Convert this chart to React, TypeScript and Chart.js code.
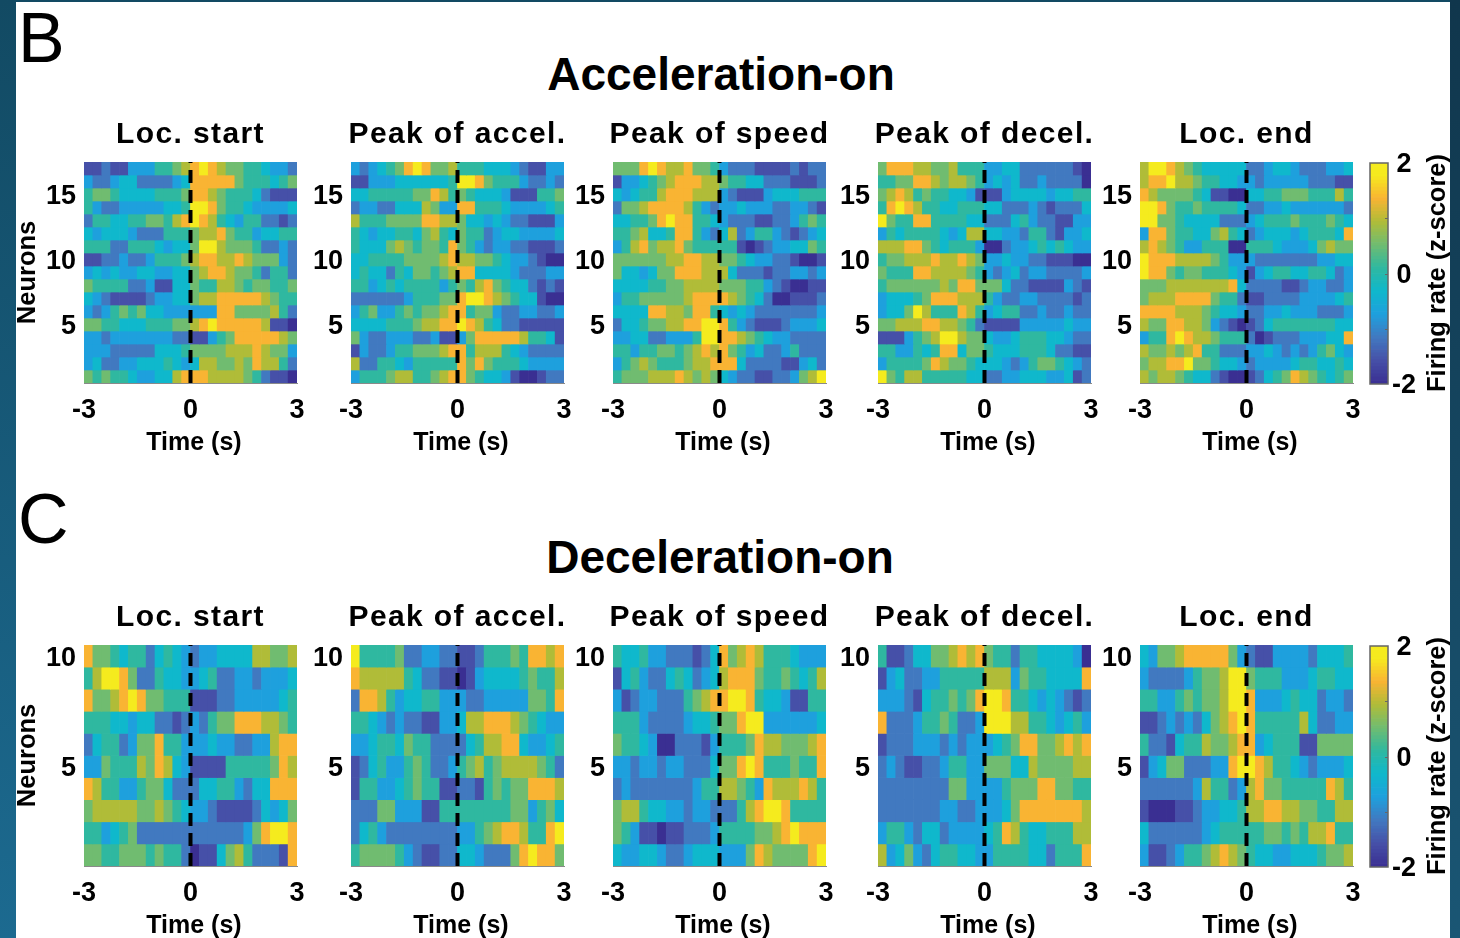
import React, { useEffect, useRef } from "react";
import { Chart, registerables } from "chart.js";

Chart.register(...registerables);

// Heat levels 0..9; level 0 = -2 z, level 9 = +2 z. Rows run from top neuron to bottom neuron.
const accStart = [
[1,1,2,1,1,3,3,3,5,5,6,7,8,9,8,7,6,6,5,5,4,3,3,2],
[3,2,2,3,4,4,2,2,2,2,3,4,8,8,8,8,8,6,5,5,5,4,5,6],
[5,6,6,5,4,4,4,4,5,5,5,6,8,8,7,6,5,5,5,4,2,1,1,1],
[5,3,2,2,3,3,3,3,3,4,4,5,9,9,8,6,5,5,4,3,3,3,3,4],
[2,5,5,4,4,5,5,6,6,5,7,8,9,8,7,5,4,3,5,5,2,2,1,2],
[4,3,4,4,4,3,2,2,2,5,5,5,6,7,7,8,6,5,5,3,4,4,5,5],
[5,5,5,2,2,5,5,5,4,3,4,4,6,9,9,7,6,6,6,5,2,2,3,2],
[1,1,2,2,3,2,2,3,5,5,5,6,7,8,8,7,7,8,7,6,6,6,3,2],
[3,4,3,4,3,3,4,4,3,3,4,4,6,7,8,8,7,6,6,5,2,5,5,2],
[6,5,5,5,5,2,2,3,1,1,4,4,6,5,5,7,7,6,5,6,6,5,5,6],
[4,3,2,1,1,1,1,2,3,3,4,4,6,7,7,8,8,8,8,8,7,6,5,5],
[3,2,3,5,6,5,6,4,4,3,3,3,3,3,3,8,8,6,6,6,6,7,5,2],
[6,6,5,5,4,4,4,5,5,5,6,6,7,8,9,8,8,8,8,8,7,1,1,0],
[3,3,2,3,3,3,3,3,3,3,2,2,1,1,3,5,6,8,8,8,8,8,7,6],
[3,3,3,2,2,2,2,2,4,4,4,5,6,6,6,6,7,7,7,8,7,6,6,3],
[3,4,2,2,3,3,4,4,4,5,4,3,4,7,7,6,6,7,6,8,7,7,5,2],
[6,5,6,5,5,4,3,3,4,4,7,8,8,8,7,7,7,7,6,5,2,1,1,0],
];
const accAccel = [
[3,2,3,4,5,6,8,9,8,6,6,7,5,5,5,4,4,4,3,2,1,1,3,3],
[1,1,3,3,3,4,4,4,4,4,4,5,9,9,8,6,5,5,5,3,2,2,3,2],
[4,4,5,5,5,5,5,6,6,8,7,5,6,5,4,4,4,3,1,1,1,5,5,6],
[2,3,3,2,2,4,4,4,7,6,3,3,8,8,5,5,5,4,3,3,3,3,4,5],
[7,5,5,5,6,6,6,6,8,8,7,7,6,4,4,3,4,3,2,2,1,1,1,3],
[5,4,3,4,4,5,5,4,6,7,5,4,6,5,5,2,3,4,4,3,3,3,3,4],
[5,4,4,4,6,7,6,5,6,6,5,8,6,5,3,2,3,3,2,2,1,1,1,2],
[4,4,5,5,5,5,6,6,6,6,7,8,7,7,6,6,5,4,3,3,2,1,0,0],
[4,5,4,4,2,5,4,6,6,5,6,7,8,8,4,4,4,4,3,2,2,2,3,3],
[5,5,3,4,5,4,5,5,5,5,3,5,6,5,7,8,6,5,4,4,2,1,2,1],
[2,2,2,2,2,2,3,5,5,5,6,6,8,9,9,8,7,6,5,4,4,1,0,0],
[3,5,6,3,3,5,6,5,6,6,7,8,8,5,6,6,3,2,2,3,3,2,2,3],
[4,4,4,4,5,5,5,6,7,7,8,8,9,8,7,5,4,2,2,1,1,1,1,1],
[6,3,2,2,3,3,3,2,2,3,1,1,3,6,8,8,8,8,8,7,5,5,4,1],
[1,3,2,2,3,5,5,6,6,6,7,8,8,5,7,7,7,5,4,3,2,2,2,2],
[7,2,2,5,5,4,3,5,5,5,5,5,8,6,8,6,5,5,5,4,3,3,3,3],
[3,5,5,5,6,7,7,5,5,6,7,8,8,6,5,4,4,3,1,0,0,1,2,2],
];
const accSpeed = [
[6,6,6,8,9,8,7,7,8,6,6,5,3,2,2,2,1,1,1,1,2,1,2,2],
[1,3,3,4,5,6,7,8,8,8,7,7,6,5,5,4,4,2,2,2,1,1,1,2],
[4,3,4,5,5,7,8,8,8,7,7,7,3,2,1,1,1,3,4,4,4,5,5,5],
[2,6,6,7,8,8,8,8,7,5,3,2,3,3,4,3,3,3,2,2,3,3,2,1],
[4,4,5,5,6,8,9,8,8,5,5,4,3,2,2,2,1,1,2,2,3,5,6,5],
[5,5,6,7,4,4,5,8,8,5,3,2,4,7,2,3,5,5,3,2,1,2,3,4],
[3,5,7,8,6,7,7,8,6,5,5,5,5,5,1,0,1,2,3,3,4,4,6,5],
[6,6,6,6,6,6,7,7,8,8,7,7,6,6,5,4,3,3,2,2,1,0,0,1],
[6,4,4,3,4,6,6,8,8,8,7,7,7,4,2,2,2,1,2,2,3,3,2,3],
[4,4,4,4,5,5,6,6,7,7,7,7,6,6,6,5,5,3,2,1,0,0,1,1],
[3,5,5,6,6,6,6,6,7,8,8,8,8,7,6,5,4,2,0,0,1,1,1,2],
[4,4,4,4,8,8,7,7,6,8,8,5,4,3,4,3,2,2,2,2,2,2,2,3],
[2,4,4,5,6,6,7,7,8,8,9,9,8,5,3,2,1,1,1,2,3,3,3,4],
[3,3,4,4,2,2,3,3,3,5,9,9,8,8,7,6,5,4,3,3,2,2,2,2],
[5,5,3,5,5,6,6,5,6,7,8,7,8,6,5,3,4,2,2,3,5,2,2,2],
[3,5,6,7,6,5,5,5,6,7,7,8,8,8,4,2,2,2,2,1,1,3,4,2],
[5,6,6,6,7,7,7,8,7,6,7,6,4,3,2,2,1,1,2,2,3,6,7,9],
];
const accDecel = [
[6,8,8,8,7,7,6,6,7,5,5,5,3,3,4,4,2,2,2,2,2,2,1,0],
[5,5,6,6,8,8,7,6,7,7,6,5,3,4,3,4,2,2,3,2,2,2,2,0],
[6,7,8,7,5,6,5,5,4,4,3,1,1,1,3,4,4,4,4,3,4,4,5,5],
[5,8,9,8,7,5,5,4,4,5,5,5,4,4,2,2,2,3,2,1,2,2,2,4],
[9,6,5,5,8,8,5,5,5,5,4,4,2,2,2,4,5,3,2,2,1,1,3,3],
[3,5,4,5,5,5,5,4,3,4,7,7,4,4,3,3,2,5,5,2,1,3,3,4],
[7,7,7,8,8,6,5,4,5,5,5,3,0,0,2,3,3,4,5,4,5,4,3,3],
[5,6,6,7,7,7,8,7,7,8,7,6,3,3,4,3,3,2,2,1,1,1,0,0],
[6,5,5,5,8,8,7,7,7,7,6,5,3,2,3,4,2,3,3,2,2,2,2,3],
[5,6,6,6,6,6,6,7,6,8,8,6,6,6,4,2,2,1,1,1,1,3,2,1],
[3,4,4,4,5,6,8,8,8,7,7,7,5,3,2,2,3,3,2,2,2,2,1,2],
[3,4,4,6,9,7,5,5,5,8,7,5,3,4,5,5,2,2,3,2,2,3,2,2],
[6,6,7,7,7,8,8,7,7,6,5,2,1,1,1,1,3,3,3,3,3,4,3,3],
[1,1,1,3,5,6,7,9,9,7,6,6,4,3,3,4,5,5,5,4,4,3,2,2],
[5,5,3,3,5,4,5,8,8,4,6,6,5,4,4,4,5,5,5,4,2,2,1,1],
[3,5,5,5,5,6,8,7,6,6,5,4,4,4,3,2,3,5,6,6,5,4,3,2],
[9,6,5,7,7,5,5,5,5,5,4,4,2,2,3,3,4,4,4,3,3,4,1,2],
];
const accEnd = [
[7,9,9,8,7,6,5,4,4,4,4,4,2,2,3,4,4,3,2,2,2,3,3,4],
[7,8,8,9,7,7,6,5,5,4,4,3,3,2,3,3,3,3,3,2,2,2,1,1],
[8,7,6,6,6,6,5,4,1,1,0,0,4,4,5,5,6,6,6,5,5,5,7,5],
[9,9,8,6,5,5,6,5,5,5,5,4,2,2,3,3,4,3,3,3,3,3,3,2],
[9,9,6,6,5,4,4,4,4,2,2,2,3,4,5,5,5,6,5,5,5,6,5,4],
[3,8,8,6,5,5,4,4,6,7,5,4,2,3,4,4,4,3,4,5,5,5,4,8],
[7,8,7,6,5,3,3,5,5,5,0,0,5,5,5,4,3,3,3,4,6,7,6,6],
[9,8,8,8,7,7,7,7,6,5,3,3,3,2,2,2,2,2,2,2,3,3,4,4],
[9,8,8,6,5,6,6,5,5,5,4,3,1,3,4,5,5,4,4,5,5,4,2,3],
[6,6,6,7,7,7,7,7,7,7,8,4,2,2,2,2,1,1,2,3,3,2,2,3],
[6,7,7,7,8,8,8,8,6,5,5,2,1,1,2,2,2,2,3,3,3,3,4,5],
[8,8,8,8,7,7,7,6,5,4,4,3,2,2,3,3,4,3,3,3,2,2,2,3],
[7,6,6,8,8,7,7,6,3,2,1,0,1,2,4,5,5,5,5,5,5,5,4,4],
[3,5,5,8,9,8,7,7,6,5,5,5,2,0,1,2,2,2,3,3,3,4,4,8],
[7,6,6,7,6,7,8,5,5,2,2,2,3,3,4,3,2,3,2,3,5,6,4,3],
[6,7,7,8,8,9,6,6,5,4,4,3,2,3,3,3,3,4,5,5,4,4,5,4],
[7,6,7,7,6,5,4,4,2,1,0,0,1,2,4,5,6,8,7,6,5,4,5,6],
];
const decStart = [
[8,6,6,5,4,5,5,2,4,5,4,3,2,3,3,4,4,4,4,7,7,6,6,7],
[5,7,9,9,8,6,2,2,5,4,4,3,3,4,5,2,2,3,3,2,3,3,3,4],
[8,6,6,7,8,9,8,6,6,5,5,5,1,1,1,2,2,3,3,3,3,3,4,5],
[5,5,5,4,4,3,4,4,2,2,1,2,3,2,5,6,6,8,8,8,7,7,6,5],
[2,4,5,5,2,3,6,6,8,5,5,3,3,3,4,3,3,2,2,3,3,7,8,8],
[3,3,6,5,5,5,7,6,8,7,4,3,1,1,1,1,5,5,5,5,5,6,8,7],
[8,7,5,5,3,3,5,6,6,4,2,2,2,4,4,5,5,3,2,4,4,8,8,8],
[6,7,7,7,7,7,6,6,7,6,5,4,3,3,2,1,1,1,1,2,4,3,4,6],
[5,5,3,4,5,6,2,2,2,2,2,2,2,2,2,2,2,2,3,6,8,9,9,8],
[6,6,5,5,6,6,6,5,6,5,5,2,0,1,1,4,6,7,5,2,2,2,1,8],
];
const decAccel = [
[9,5,5,5,5,6,2,2,3,3,2,2,1,1,2,5,5,5,6,5,8,8,7,8],
[8,7,7,7,7,7,5,4,2,2,1,1,0,1,3,4,4,4,4,5,6,5,5,7],
[2,8,8,7,5,3,4,4,5,5,3,3,3,2,2,3,3,3,3,3,6,6,5,8],
[5,5,4,3,2,3,2,2,1,1,3,3,4,7,7,8,8,8,7,6,5,4,3,3],
[3,3,4,5,5,4,6,5,5,2,2,2,2,4,5,7,7,8,8,4,3,3,4,5],
[1,2,4,5,3,3,5,6,5,2,2,3,5,6,7,5,6,7,7,7,7,6,5,2],
[1,5,5,3,3,4,5,6,5,5,1,1,2,2,1,5,6,5,6,6,8,8,8,7],
[2,2,2,6,6,3,3,3,1,1,5,5,5,5,5,5,5,5,6,6,3,5,6,4],
[2,4,5,3,2,2,2,2,2,2,2,2,3,3,5,6,7,8,8,7,5,5,8,9],
[5,6,6,6,6,5,3,2,1,1,2,2,4,4,3,2,2,2,6,8,9,8,8,6],
];
const decSpeed = [
[5,4,4,5,3,3,2,2,2,1,2,4,8,6,7,8,7,5,5,5,4,3,3,3],
[1,4,5,3,2,2,4,5,4,2,3,4,7,8,8,8,6,5,5,6,5,4,5,7],
[3,1,2,3,3,2,2,2,5,6,7,8,8,9,9,8,5,4,4,3,1,1,5,5],
[5,5,5,3,2,2,2,2,3,4,4,5,6,6,8,9,9,3,3,3,3,3,3,4],
[6,5,5,4,3,0,0,2,2,2,1,3,5,5,5,6,8,7,7,6,6,6,7,8],
[3,3,2,3,3,2,3,3,2,2,2,4,6,6,8,9,8,5,5,5,6,5,5,8],
[2,3,2,2,2,2,2,2,2,3,5,5,7,7,6,5,3,8,7,7,7,8,7,5],
[6,7,7,5,4,4,3,3,2,3,3,2,2,2,5,7,8,9,9,8,5,5,5,5],
[6,5,3,1,1,0,1,1,2,2,2,3,5,5,5,5,6,6,7,8,9,8,8,8],
[4,3,3,4,4,3,2,2,3,4,4,4,3,3,3,6,8,7,6,6,6,6,8,9],
];
const decDecel = [
[5,1,1,2,4,4,6,6,7,8,7,8,6,5,5,2,5,5,4,4,4,4,3,0],
[1,3,4,2,2,3,3,5,5,5,5,5,7,7,7,3,6,5,5,4,4,4,4,8],
[3,3,3,2,1,4,5,5,6,5,6,8,9,9,8,5,5,4,3,4,3,2,1,2],
[8,2,2,2,3,5,5,6,5,2,2,3,9,9,9,7,7,5,5,4,3,4,5,3],
[1,2,2,2,3,3,3,2,3,2,3,3,3,4,5,6,8,8,6,6,7,8,7,8],
[2,3,2,1,1,2,2,3,5,5,3,3,6,6,6,4,4,7,6,6,6,6,7,7],
[2,2,2,2,2,2,2,2,6,6,3,3,3,3,5,6,6,6,8,8,6,6,5,5],
[2,2,2,2,2,2,2,3,3,2,2,3,3,3,4,6,8,8,8,8,8,8,8,7],
[3,5,5,3,2,4,4,2,3,3,3,3,4,5,8,7,5,4,4,5,5,5,7,7],
[7,3,4,6,3,2,4,5,5,4,4,3,3,5,5,5,5,4,4,2,5,5,5,8],
];
const decEnd = [
[4,3,6,6,7,8,8,8,8,8,6,3,2,1,1,3,3,3,3,2,4,4,4,5],
[3,2,2,2,2,3,5,6,6,7,9,9,6,5,5,5,3,3,3,4,5,5,4,4],
[5,5,3,3,5,6,5,6,6,7,9,9,8,3,3,3,4,5,4,4,2,3,3,2],
[1,1,2,3,2,3,2,4,6,7,8,9,8,5,5,5,5,5,7,4,2,2,3,3],
[5,2,2,1,4,5,5,7,6,6,7,8,8,3,4,5,5,5,1,1,6,6,6,6],
[1,3,4,6,6,2,2,2,3,3,8,9,9,8,7,5,5,4,3,2,3,3,3,4],
[2,2,2,2,2,2,3,7,5,5,2,3,7,8,6,6,5,5,5,5,5,8,7,5],
[1,0,0,0,1,1,2,3,3,4,4,5,7,7,8,8,7,7,6,6,5,5,7,7],
[4,2,2,2,2,2,2,3,4,5,5,5,5,5,6,6,5,6,5,7,7,8,5,5],
[3,1,1,2,3,5,5,6,7,8,7,6,5,4,4,3,3,4,4,4,5,6,6,7],
];

const eventTitles = ["Loc. start", "Peak of accel.", "Peak of speed", "Peak of decel.", "Loc. end"];
const xTickValues = [-3, 0, 3];
const accNeuronTicks = [5, 10, 15];
const decNeuronTicks = [5, 10];
const colorbarTicks = [-2, 0, 2];
const paletteStops = ["#3a2f92", "#4650a8", "#4179c0", "#1ea0dd", "#0fb8cc", "#2fb8a0", "#70bc70", "#b0bc38", "#f9b433", "#f5eb1e"];

const FONT = "'Liberation Sans', Arial, sans-serif";
const PLOT_W = 213;
const PLOT_H = 221;
const M = 70;
const TITLE_H = 44;
const XAXIS_H = 73;
const plotLefts = [84, 351, 613, 878, 1140];

function hexRgb(h: string) {
  return [1, 3, 5].map((i) => parseInt(h.slice(i, i + 2), 16));
}
function colorAt(pos: number) {
  const p = Math.max(0, Math.min(1, pos)) * (paletteStops.length - 1);
  const i = Math.min(Math.floor(p), paletteStops.length - 2);
  const f = p - i;
  const a = hexRgb(paletteStops[i]);
  const b = hexRgb(paletteStops[i + 1]);
  return `rgb(${a.map((v, k) => Math.round(v + (b[k] - v) * f)).join(",")})`;
}
const levelToZ = (l: number) => -2 + (l * 4) / 9;
const zToColor = (z: number) => colorAt((z + 2) / 4);

const spacedTitle = {
  id: "spacedTitle",
  beforeDraw(chart: any) {
    const tb = chart.titleBlock;
    if (tb && !tb.__spaced) {
      tb.__spaced = true;
      const d = tb.draw.bind(tb);
      tb.draw = () => {
        const c = chart.ctx;
        c.save();
        c.letterSpacing = "1.4px";
        d();
        c.restore();
      };
    }
  },
};

function Heatmap({ rows, title, left, plotTop, neuronTicks, showY }: any) {
  const ref = useRef<HTMLCanvasElement>(null);
  useEffect(() => {
    const n = rows.length;
    const dt = 6 / rows[0].length;
    const tickFont = { family: FONT, weight: "bold", size: 27, lineHeight: 1 };
    const datasets: any[] = rows.map((row: number[], i: number) => ({
      type: "bar",
      label: `Neuron ${n - i}`,
      data: row.map((l, j) => ({ x: -3 + (j + 0.5) * dt, y: [n - i - 0.5, n - i + 0.5] })),
      backgroundColor: row.map((l) => zToColor(levelToZ(l))),
      borderWidth: 0,
      grouped: false,
      barPercentage: 1,
      categoryPercentage: 1,
      order: 2,
    }));
    datasets.push({
      type: "line",
      label: "t=0",
      data: [{ x: 0, y: 0.5 }, { x: 0, y: n + 0.5 }],
      borderColor: "#000",
      borderWidth: 4,
      borderDash: [13, 7],
      pointRadius: 0,
      order: 0,
    });
    const chart = new Chart(ref.current as any, {
      type: "bar",
      data: { datasets },
      plugins: [spacedTitle],
      options: {
        animation: false,
        responsive: false,
        layout: { padding: 0 },
        plugins: {
          legend: { display: false },
          tooltip: { enabled: false },
          title: {
            display: true,
            text: title,
            color: "#000",
            font: { family: FONT, weight: "bold", size: 30, lineHeight: 1 },
            padding: { top: 2, bottom: 12 },
          },
        },
        scales: {
          x: {
            type: "linear",
            offset: false,
            min: -3,
            max: 3,
            grid: { display: false, drawTicks: false },
            border: { color: "#8a8a8a", width: 1 },
            afterBuildTicks: (s: any) => { s.ticks = xTickValues.map((value) => ({ value })); },
            afterFit: (s: any) => { s.height = XAXIS_H; },
            ticks: { color: "#000", font: tickFont, padding: 14, maxRotation: 0, autoSkip: false },
            title: { display: true, text: " Time (s)", color: "#000", font: { ...tickFont, size: 25 }, padding: 0 },
          },
          y: {
            type: "linear",
            min: 0.5,
            max: n + 0.5,
            grid: { display: false, drawTicks: false },
            border: { color: "#8a8a8a", width: 1 },
            afterBuildTicks: (s: any) => { s.ticks = neuronTicks.map((value: number) => ({ value })); },
            afterFit: (s: any) => { s.width = M; },
            ticks: { color: "#000", font: tickFont, padding: 8, labelOffset: 2, autoSkip: false },
            title: { display: showY, text: "Neurons", color: "#000", font: { ...tickFont, size: 25.5 }, padding: { top: 1, bottom: 0 } },
          },
          pad: {
            type: "linear",
            position: "right",
            display: true,
            grid: { display: false, drawTicks: false },
            border: { display: false },
            ticks: { display: false },
            afterFit: (s: any) => { s.width = M; },
          },
        },
      } as any,
    });
    return () => chart.destroy();
  }, []);
  return (
    <canvas
      ref={ref}
      width={M * 2 + PLOT_W}
      height={TITLE_H + PLOT_H + XAXIS_H}
      style={{ position: "absolute", left: left - M, top: plotTop - TITLE_H, width: M * 2 + PLOT_W, height: TITLE_H + PLOT_H + XAXIS_H }}
    />
  );
}

function Colorbar({ plotTop }: any) {
  const ref = useRef<HTMLCanvasElement>(null);
  useEffect(() => {
    const steps = 64;
    const datasets = Array.from({ length: steps }, (_, i) => {
      const a = -2 + (i * 4) / steps;
      const b = -2 + ((i + 1) * 4) / steps;
      return {
        label: `level ${i}`,
        data: [[a, b]],
        backgroundColor: colorAt((((a + b) / 2 + 2) / 4) * 1.06),
        borderWidth: 0,
        grouped: false,
        barPercentage: 1,
        categoryPercentage: 1,
      };
    });
    const frame = {
      id: "frame",
      afterDatasetsDraw(c: any) {
        const { ctx, chartArea: a, scales } = c;
        ctx.save();
        ctx.strokeStyle = "#666";
        ctx.lineWidth = 1.5;
        ctx.strokeRect(a.left, a.top, a.right - a.left, a.bottom - a.top);
        ctx.lineWidth = 1;
        [-1, 0, 1].forEach((v) => {
          const y = Math.round(scales.y.getPixelForValue(v)) + 0.5;
          ctx.beginPath();
          ctx.moveTo(a.right - 3, y);
          ctx.lineTo(a.right, y);
          ctx.stroke();
        });
        ctx.restore();
      },
    };
    const chart = new Chart(ref.current as any, {
      type: "bar",
      data: { labels: [""], datasets },
      plugins: [frame],
      options: {
        animation: false,
        responsive: false,
        layout: { padding: { left: 10, top: 33, bottom: 30, right: 0 } },
        plugins: { legend: { display: false }, tooltip: { enabled: false } },
        scales: {
          x: { display: false },
          y: {
            position: "right",
            type: "linear",
            min: -2,
            max: 2,
            grid: { display: false, drawTicks: false },
            border: { display: false },
            afterBuildTicks: (s: any) => { s.ticks = colorbarTicks.map((value) => ({ value })); },
            afterFit: (s: any) => { s.width = 72; },
            ticks: {
              color: "#000",
              font: { family: FONT, weight: "bold", size: 27, lineHeight: 1 },
              padding: 4,
              labelOffset: 2,
              crossAlign: "center",
              autoSkip: false,
            },
          },
        },
      } as any,
    });
    return () => chart.destroy();
  }, []);
  return (
    <canvas
      ref={ref}
      width={100}
      height={284}
      style={{ position: "absolute", left: 1360, top: plotTop - 33, width: 100, height: 284 }}
    />
  );
}

const bigTitle = (text: string, cy: number, cx: number) => (
  <div style={{ position: "absolute", left: cx - 300, width: 600, top: cy - 30, height: 60, lineHeight: "60px", textAlign: "center", fontFamily: FONT, fontWeight: 700, fontSize: 46, color: "#000" }}>{text}</div>
);
const panelLetter = (text: string, left: number, top: number) => (
  <div style={{ position: "absolute", left, top, lineHeight: "70px", fontFamily: FONT, fontSize: 70, color: "#000" }}>{text}</div>
);
const cbLabel = (cy: number) => (
  <div style={{ position: "absolute", left: 1436 - 150, top: cy - 15, width: 300, height: 30, lineHeight: "30px", textAlign: "center", transform: "rotate(-90deg)", fontFamily: FONT, fontWeight: 700, fontSize: 25.5, color: "#000", whiteSpace: "nowrap" }}>Firing rate (z-score)</div>
);

export default function App() {
  const top = [accStart, accAccel, accSpeed, accDecel, accEnd];
  const bottom = [decStart, decAccel, decSpeed, decDecel, decEnd];
  return (
    <div style={{ position: "absolute", left: 0, top: 0, width: 1460, height: 938, overflow: "hidden", background: "#fff" }}>
      {panelLetter("B", 18, 3)}
      {bigTitle("Acceleration-on", 74, 721)}
      {panelLetter("C", 18, 484)}
      {bigTitle("Deceleration-on", 557, 720)}
      {top.map((rows, i) => (
        <Heatmap key={"a" + i} rows={rows} title={eventTitles[i]} left={plotLefts[i]} plotTop={162} neuronTicks={accNeuronTicks} showY={i === 0} />
      ))}
      {bottom.map((rows, i) => (
        <Heatmap key={"d" + i} rows={rows} title={eventTitles[i]} left={plotLefts[i]} plotTop={645} neuronTicks={decNeuronTicks} showY={i === 0} />
      ))}
      <Colorbar plotTop={163} />
      <Colorbar plotTop={646} />
      {cbLabel(273)}
      {cbLabel(756)}
      <div style={{ position: "absolute", left: 0, top: 0, width: 1460, height: 2, background: "#124a63" }} />
      <div style={{ position: "absolute", left: 0, top: 0, width: 16, height: 938, background: "linear-gradient(to bottom,#124a63,#1c6a90)" }} />
      <div style={{ position: "absolute", left: 1450, top: 0, width: 10, height: 938, background: "linear-gradient(to bottom,#10364c,#1a5674)" }} />
    </div>
  );
}
